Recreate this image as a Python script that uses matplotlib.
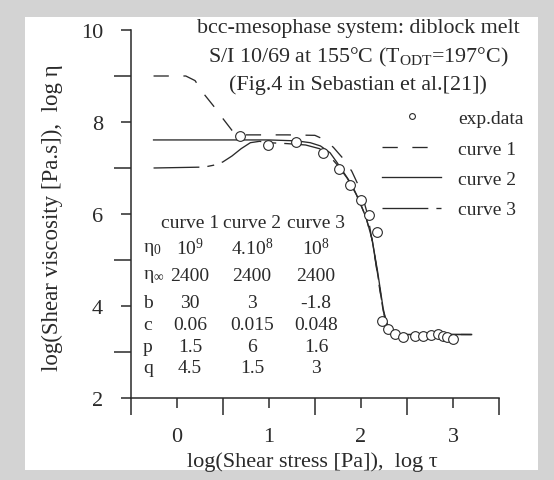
import matplotlib
matplotlib.use("Agg")
import matplotlib.pyplot as plt
from matplotlib.patches import Rectangle
from matplotlib.ticker import FixedLocator

plt.rcParams['font.family'] = ['Liberation Serif', 'DejaVu Serif']
plt.rcParams['mathtext.fontset'] = 'custom'
plt.rcParams['mathtext.rm'] = 'Liberation Serif'
plt.rcParams['mathtext.it'] = 'Liberation Serif'
plt.rcParams['mathtext.bf'] = 'Liberation Serif'
plt.rcParams['lines.scale_dashes'] = False

# ---- data ----
exp_x = [0.69, 0.99, 1.29, 1.585, 1.76, 1.88, 2.0, 2.09, 2.17,
         2.225, 2.295, 2.37, 2.46, 2.585, 2.67, 2.755, 2.83, 2.885, 2.935, 3.0]
exp_y = [7.69, 7.50, 7.56, 7.33, 6.97, 6.64, 6.30, 5.98, 5.60,
         3.68, 3.50, 3.39, 3.33, 3.34, 3.35, 3.38, 3.39, 3.35, 3.32, 3.28]

c1_x = [-0.25, 0.1, 0.2, 0.3, 0.4, 0.5, 0.6, 0.7, 0.85, 1.2, 1.5, 1.6, 1.7,
        1.8, 1.9, 2.0, 2.07, 2.14, 2.2, 2.26, 2.32, 2.4, 3.2]
c1_y = [9.0, 9.0, 8.9, 8.6, 8.35, 8.08, 7.82, 7.72, 7.72, 7.72, 7.71, 7.62, 7.45,
        7.22, 6.93, 6.5, 6.0, 5.2, 4.4, 3.7, 3.45, 3.38, 3.38]

c2_x = [-0.25, 1.0, 1.3, 1.45, 1.56, 1.665, 1.74, 1.82, 1.9, 1.99, 2.06, 2.12,
        2.18, 2.24, 2.28, 2.33, 2.4, 2.5, 3.2]
c2_y = [7.61, 7.61, 7.59, 7.55, 7.48, 7.33, 7.12, 6.88, 6.64, 6.25, 5.89, 5.45,
        4.75, 3.95, 3.6, 3.45, 3.40, 3.38, 3.38]

c3_x = [-0.25, 0.3, 0.4, 0.5, 0.6, 0.7, 0.8, 0.9, 1.0, 1.2, 1.4, 1.55, 1.65,
        1.75, 1.85, 1.95, 2.05, 2.12, 2.18, 2.24, 2.3, 2.4, 3.2]
c3_y = [7.0, 7.02, 7.06, 7.13, 7.26, 7.42, 7.55, 7.58, 7.55, 7.53, 7.50, 7.42, 7.28,
        7.05, 6.78, 6.42, 5.95, 5.45, 4.7, 3.9, 3.5, 3.39, 3.38]

x_major = [0, 1, 2, 3]
x_minor = [-0.5, 0.5, 1.5, 2.5, 3.5]
y_major = [2, 4, 6, 8, 10]
y_minor = [3, 5, 7, 9]

title_lines = ["bcc-mesophase system: diblock melt",
               "S/I 10/69 at 155\u00b0C (T$_{\\mathrm{ODT}}$=197\u00b0C)",
               "(Fig.4 in Sebastian et al.[21])"]
legend_labels = ["exp.data", "curve 1", "curve 2", "curve 3"]

table_header = ["curve 1", "curve 2", "curve 3"]
table_rows = ["$\\eta_0$", "$\\eta_\\infty$", "b", "c", "p", "q"]
table_vals = [["10$^9$", "4.10$^8$", "10$^8$"],
              ["2400", "2400", "2400"],
              ["30", "3", "-1.8"],
              ["0.06", "0.015", "0.048"],
              ["1.5", "6", "1.6"],
              ["4.5", "1.5", "3"]]

W, H = 554, 481
fig = plt.figure(figsize=(W / 100, H / 100), dpi=100)
fig.patch.set_facecolor('#d3d3d3')

def fx(px):
    return px / W

def fy(py):
    return 1 - py / H

fig.patches.append(Rectangle((fx(25), fy(471)), fx(538) - fx(25), fy(18) - fy(471),
                             transform=fig.transFigure, facecolor='white',
                             edgecolor='none', zorder=-10))

ax = fig.add_axes([fx(130.5), fy(399), fx(499.3) - fx(130.5), fy(31) - fy(399)])
ax.set_facecolor('none')
ax.set_xlim(-0.5, 3.5)
ax.set_ylim(2, 10)
for s in ['top', 'right']:
    ax.spines[s].set_visible(False)
ink = '#2a2a2a'
for s in ['left', 'bottom']:
    ax.spines[s].set_linewidth(1.1)
    ax.spines[s].set_color(ink)

ax.xaxis.set_major_locator(FixedLocator(x_major))
ax.xaxis.set_minor_locator(FixedLocator(x_minor))
ax.yaxis.set_major_locator(FixedLocator(y_major))
ax.yaxis.set_minor_locator(FixedLocator(y_minor))
ax.tick_params(which='major', direction='out', length=7.2, width=1.1, color=ink,
               labelsize=16, labelcolor=ink)
ax.tick_params(which='minor', direction='out', length=12.2, width=1.1, color=ink)
ax.tick_params(axis='x', which='major', pad=14)
ax.tick_params(axis='y', which='major', pad=12.5)

lw = 0.95
ax.plot(c1_x, c1_y, color=ink, lw=lw, dashes=(11, 10.5), label=legend_labels[1], zorder=3)
ax.plot(c2_x, c2_y, color=ink, lw=lw, ls='-', label=legend_labels[2], zorder=3)
ax.plot(c3_x, c3_y, color=ink, lw=lw, dashes=(33, 5.8, 5, 5.8), label=legend_labels[3], zorder=3)
ax.plot(exp_x, exp_y, ls='none', marker='o', ms=7, mfc='white', mec=ink, mew=0.8,
        label=legend_labels[0], zorder=4)

handles, labels = ax.get_legend_handles_labels()
order = [3, 0, 1, 2]
leg = ax.legend([handles[i] for i in order], [labels[i] for i in order],
                loc='upper left', bbox_to_anchor=(fx(382), fy(110.5)),
                bbox_transform=fig.transFigure, frameon=False, fontsize=14,
                handlelength=3.05, handletextpad=0.85, labelspacing=0.66,
                borderpad=0, borderaxespad=0, markerscale=0.6)
for t in leg.get_texts():
    t.set_color(ink)

ax.set_xlabel("log(Shear stress [Pa]),  log \u03c4", fontsize=16, color=ink)
ax.xaxis.set_label_coords(fx(312), fy(462), transform=fig.transFigure)
ax.set_ylabel("log(Shear viscosity [Pa.s]),  log \u03b7", fontsize=16.5, color=ink)
ax.yaxis.set_label_coords(fx(52), fy(218), transform=fig.transFigure)
ax.xaxis.label.set_va('center')
ax.yaxis.label.set_va('center')

for i, line in enumerate(title_lines):
    fig.text(fx(358), fy(29 + 28 * i), line, ha='center', va='center', fontsize=15.8, color=ink)

col_x = [190, 252, 316]
for j, h in enumerate(table_header):
    fig.text(fx(col_x[j]), fy(223), h, ha='center', va='center', fontsize=14, color=ink)
row_y = [249, 277, 304, 326, 348, 369]
for i, r in enumerate(table_rows):
    fig.text(fx(143), fy(row_y[i]), r, ha='left', va='center', fontsize=14, color=ink)
    for j, v in enumerate(table_vals[i]):
        fig.text(fx(col_x[j]), fy(row_y[i]), v, ha='center', va='center', fontsize=14, color=ink)

fig.savefig('out.png', dpi=100, facecolor=fig.get_facecolor())
